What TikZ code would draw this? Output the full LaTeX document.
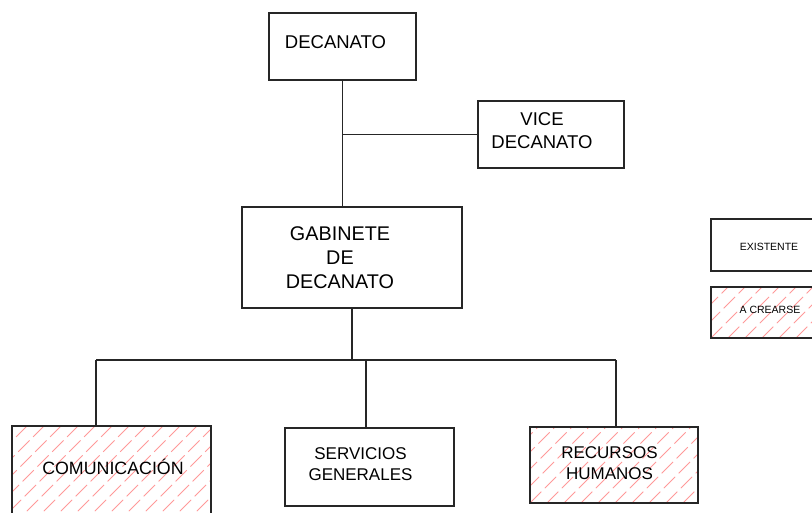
\documentclass[tikz,border=0pt]{standalone}
\usepackage{fontspec}
\setmainfont{Liberation Sans}
\usetikzlibrary{calc,backgrounds}

\tikzset{
  caja/.style={draw=black!85, line width=1.1pt, inner sep=0pt, outer sep=0pt},
  etq/.style={align=center, inner sep=0pt},
  linea/.style={draw=black!85, line width=1.1pt},
  rayas/.style={draw=red!40, line width=0.8pt, dash pattern=on 16pt off 5pt},
}

% rayado de las cajas "a crearse"
\newcommand{\rayado}[1]{%
  \begin{pgfonlayer}{background}
  \begin{scope}
    \clip (#1.south west) rectangle (#1.north east);
    \foreach \d in {-238,-221,...,240}
      \draw[rayas] ($(#1.south west)+(\d,0)$) -- ++(240,-240);
  \end{scope}
  \end{pgfonlayer}}

\begin{document}
\begin{tikzpicture}[x=1pt,y=-1pt]
\useasboundingbox (0,0) rectangle (812,513);

\node[caja, minimum width=147, minimum height=67,
  label={[etq, font=\fontsize{18.5}{23}\selectfont, xshift=-7pt, yshift=4pt]center:DECANATO}] (dec) at (342.5,46.5) {};
\node[caja, minimum width=146, minimum height=67,
  label={[etq, font=\fontsize{18.5}{23}\selectfont, xshift=-9pt, yshift=4pt]center:VICE\\DECANATO}] (vice) at (551,134.5) {};
\node[caja, minimum width=220, minimum height=101,
  label={[etq, font=\fontsize{19.8}{24}\selectfont, xshift=-12pt]center:GABINETE\\DE\\DECANATO}] (gab) at (352,257.5) {};

\node[caja, minimum width=199, minimum height=100,
  label={[etq, font=\fontsize{17.8}{21}\selectfont, xshift=1.5pt, yshift=9pt]center:COMUNICACIÓN}] (com) at (111.5,476) {};
\node[caja, minimum width=169, minimum height=78,
  label={[etq, font=\fontsize{17}{21}\selectfont, xshift=-9pt, yshift=2.5pt]center:SERVICIOS\\GENERALES}] (serv) at (369.5,467) {};
\node[caja, minimum width=168, minimum height=76,
  label={[etq, font=\fontsize{17}{21}\selectfont, xshift=-4.5pt, yshift=1.5pt]center:RECURSOS\\HUMANOS}] (rec) at (614,465) {};
\rayado{com}
\rayado{rec}

% leyenda
\node[caja, minimum width=106, minimum height=52,
  label={[etq, font=\fontsize{10.5}{12}\selectfont, xshift=5pt, yshift=-2pt]center:EXISTENTE}] (exist) at (764,245) {};
\node[caja, minimum width=106, minimum height=51,
  label={[etq, font=\fontsize{10.5}{12}\selectfont, xshift=6pt, yshift=3pt]center:A CREARSE}] (crear) at (764,312.5) {};
\rayado{crear}

% conectores
\draw[linea] (dec.south) -- (dec.south |- gab.north);
\draw[linea] (dec.south |- vice.west) -- (vice.west);
\coordinate (bus) at (gab.south |- 0,360);
\draw[linea] (gab.south) -- (bus);
\draw[linea] ([xshift=-15.5pt]com.north |- bus) -- ([xshift=2pt]rec.north |- bus);
\draw[linea] ([xshift=-15.5pt]com.north |- bus) -- ([xshift=-15.5pt]com.north);
\draw[linea] ([xshift=-3.5pt]serv.north |- bus) -- ([xshift=-3.5pt]serv.north);
\draw[linea] ([xshift=2pt]rec.north |- bus) -- ([xshift=2pt]rec.north);

\end{tikzpicture}
\end{document}
